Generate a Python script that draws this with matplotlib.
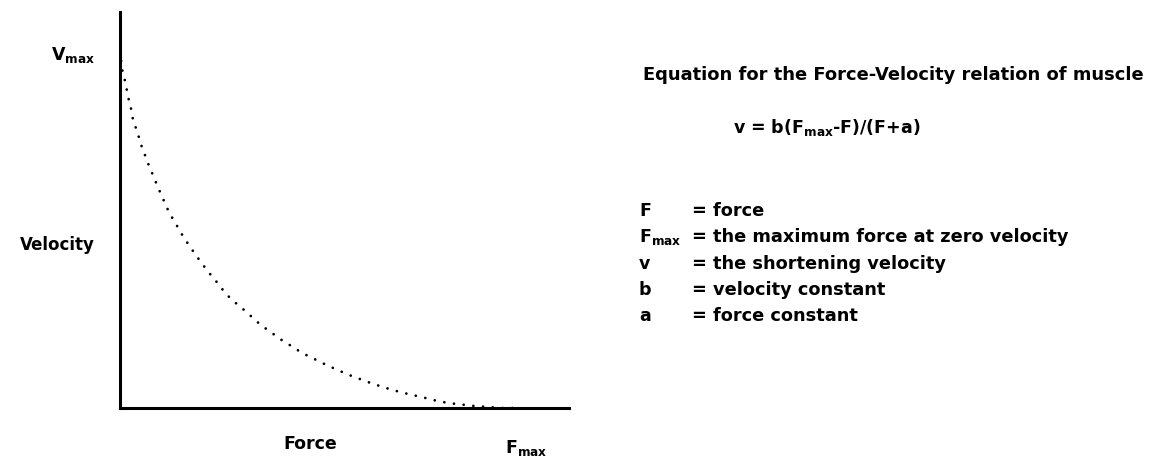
import matplotlib
matplotlib.use("Agg")
import matplotlib.pyplot as plt

plt.rcParams["font.family"] = ["DejaVu Sans"]
plt.rcParams["font.weight"] = "bold"
plt.rcParams["mathtext.default"] = "regular"

# force as % of Fmax, velocity as % of Vmax
force = [0.4, 0.75, 1.4, 1.9, 2.4, 3.0, 3.4, 4.25, 5.0, 5.75, 6.7, 7.5, 8.5, 9.5,
         10.5, 11.5, 12.5, 13.75, 15.0, 16.25, 17.7, 19.1, 20.6, 21.9, 23.6, 25.0,
         26.5, 28.4, 30.25, 32.0, 33.9, 35.8, 37.8, 39.8, 41.8, 43.9, 45.9, 48.0,
         50.1, 52.2, 54.25, 56.5, 58.75, 60.9, 63.2, 65.4, 67.6, 69.8, 72.2, 74.5,
         76.75, 79.1, 81.4, 83.75, 86.2, 88.4, 90.75, 93.2, 95.5, 97.75, 100.0]
velocity = [100.1, 97.1, 94.2, 91.3, 88.4, 85.8, 82.9, 80.3, 77.5, 74.6, 72.0, 69.4,
            66.8, 63.9, 61.3, 58.7, 56.1, 53.8, 51.2, 48.8, 46.4, 44.0, 41.7, 39.6,
            37.3, 35.3, 33.0, 30.9, 29.1, 27.4, 25.3, 23.5, 21.9, 20.1, 18.7, 17.1,
            15.7, 14.5, 13.3, 12.1, 11.1, 9.9, 8.9, 8.0, 7.0, 6.2, 5.4, 4.7, 4.0,
            3.4, 2.8, 2.1, 1.6, 1.2, 0.9, 0.6, 0.4, 0.2, 0.0, 0.0, 0.0]

title = "Equation for the Force-Velocity relation of muscle"
equation = "v = b(F$_{max}$-F)/(F+a)"
symbols = ["F", "F$_{max}$", "v", "b", "a"]
meanings = ["= force", "= the maximum force at zero velocity",
            "= the shortening velocity", "= velocity constant", "= force constant"]

W, H = 1161, 460
fig = plt.figure(figsize=(W / 100, H / 100), dpi=100)
ax = fig.add_axes([119.5 / W, (H - 409) / H, (569 - 119.5) / W, (409 - 13) / H])

ax.plot(force, velocity, color="black", lw=2.0, linestyle=(0, (0.01, 3.5)),
        dash_capstyle="round", clip_on=False)
ax.set_xlim(0, 112.25)
ax.set_ylim(0, 114.2)
ax.set_xticks([])
ax.set_yticks([])
for side in ["top", "right"]:
    ax.spines[side].set_visible(False)
for side in ["left", "bottom"]:
    ax.spines[side].set_linewidth(2.2)


def px_text(x, y, s, size=12.5, **kw):
    fig.text(x / W, 1 - y / H, s, fontsize=size, fontweight="bold", **kw)


px_text(95, 55, "V$_{max}$", ha="right", va="center")
px_text(95, 245, "Velocity", ha="right", va="center", size=12)
px_text(310, 444, "Force", ha="center", va="center")
px_text(505, 448, "F$_{max}$", ha="left", va="center")

px_text(643, 75, title, ha="left", va="center", size=12.9)
px_text(733, 127, equation, ha="left", va="center")
for i, (sym, desc) in enumerate(zip(symbols, meanings)):
    y = 211 + i * 26.3
    px_text(639, y, sym, ha="left", va="center")
    px_text(692, y, desc, ha="left", va="center", size=12.8)

fig.savefig("out.png", dpi=100)
